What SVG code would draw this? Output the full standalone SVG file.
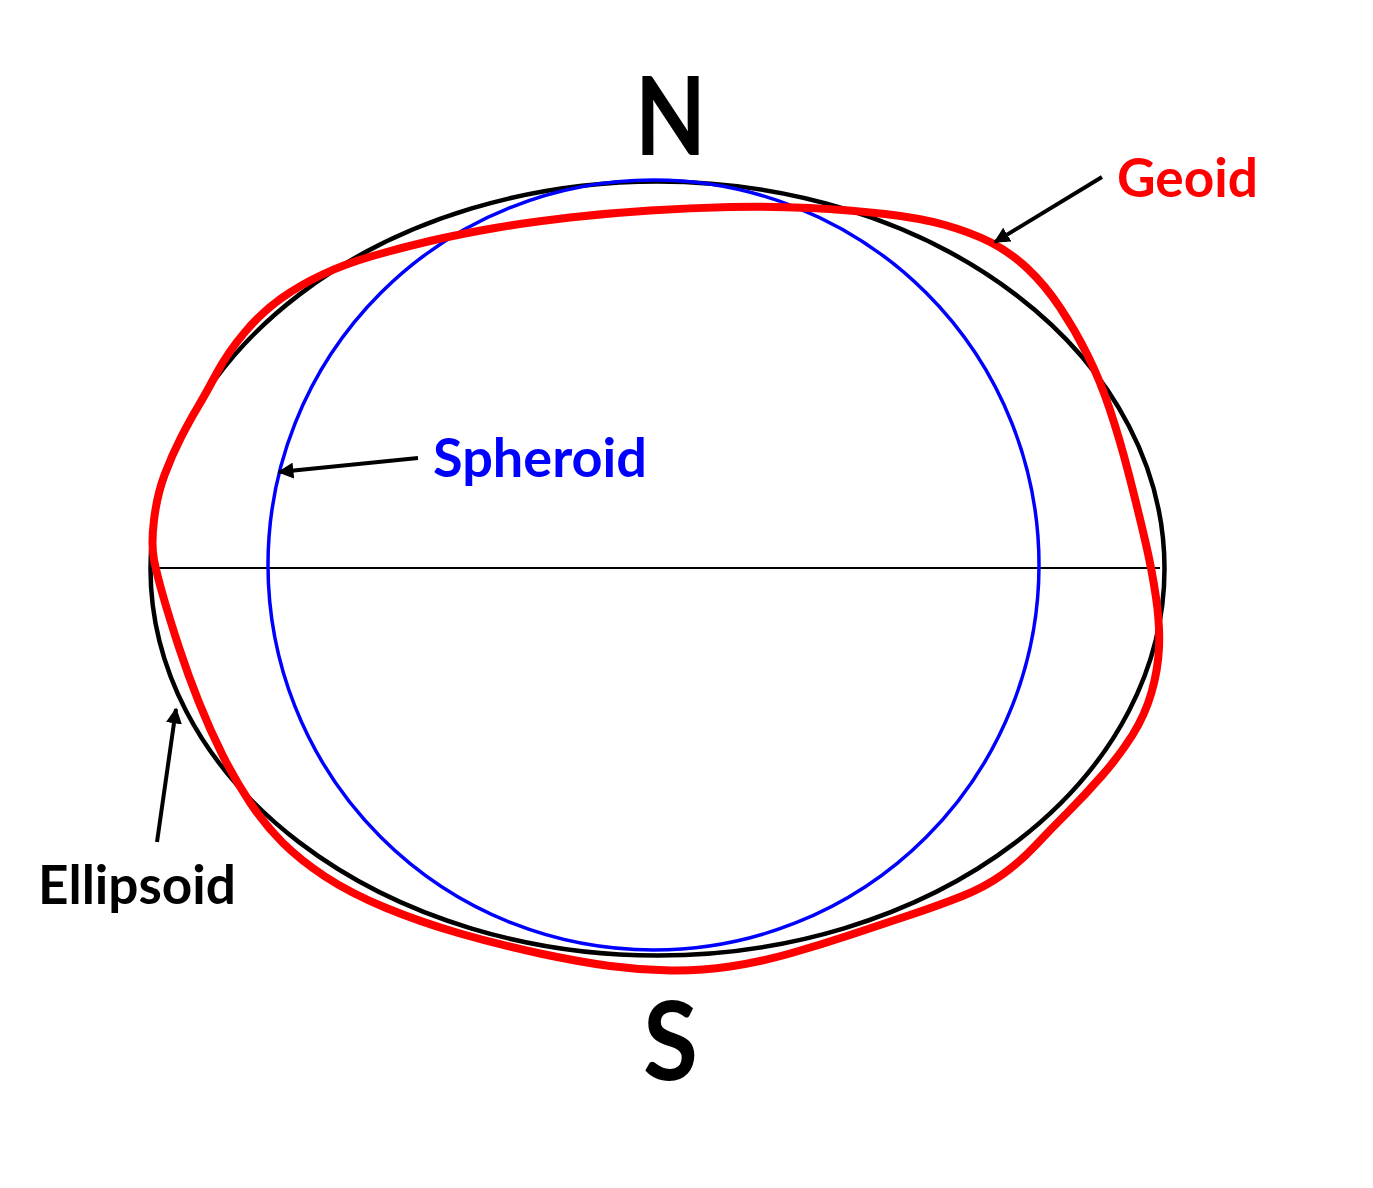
<svg xmlns="http://www.w3.org/2000/svg" width="1373" height="1188" viewBox="0 0 1373 1188">
<style>
.lbl{font-family:Lato,"Open Sans","Liberation Sans",sans-serif;font-weight:bold}
.arrow{stroke:#000;stroke-width:4;fill:none;marker-end:url(#ah)}
</style>
<defs>
<marker id="ah" viewBox="0 0 10 10" refX="9" refY="5" markerWidth="4" markerHeight="4" orient="auto" markerUnits="strokeWidth">
<path d="M0,0 L10,5 L0,10 z" fill="#000"/>
</marker>
</defs>
<rect width="1373" height="1188" fill="#fff"/>
<g id="ellipsoid">
<ellipse cx="657.5" cy="568.5" rx="507" ry="387" fill="none" stroke="#000" stroke-width="4.5"/>
</g>
<g id="equator">
<line x1="152" y1="568" x2="1160" y2="568" stroke="#000" stroke-width="2"/>
</g>
<g id="spheroid">
<ellipse cx="653.5" cy="565" rx="385.5" ry="385" fill="none" stroke="#0000ff" stroke-width="3.5"/>
</g>
<g id="geoid">
<path fill="none" stroke="#ff0000" stroke-width="8" stroke-linejoin="round" d="M154,520 Q157,495 164.5,475 Q172,455 181,437.5 Q190,420 197.5,407.5 Q205,395 216.5,373.5 Q228,352 245,332 Q262,312 281,298.5 Q300,285 322.5,274.5 Q345,264 372.5,256 Q400,248 430,241 Q460,234 495,228 Q530,222 570,217.5 Q610,213 650,210.5 Q690,208 730,207 Q770,206 810,208 Q850,210 885,214 Q920,218 945,225 Q970,232 990,242 Q1010,252 1027.5,268.5 Q1045,285 1060,307.5 Q1075,330 1087.5,355 Q1100,380 1110,410 Q1120,440 1129,475 Q1138,510 1145,540 Q1152,570 1156,597.5 Q1160,625 1159,647.5 Q1158,670 1151.5,692.5 Q1145,715 1132.5,735 Q1120,755 1102.5,775 Q1085,795 1067.5,812.5 Q1050,830 1035,846 Q1020,862 1002.5,874.5 Q985,887 962.5,896 Q940,905 910,915 Q880,925 850,935 Q820,945 790,953.5 Q760,962 730,966.5 Q700,971 670,970.5 Q640,970 610,966 Q580,962 540,953.5 Q500,945 460,933.5 Q420,922 385,907.5 Q350,893 325,876.5 Q300,860 282.5,842.5 Q265,825 250,802.5 Q235,780 222.5,755 Q210,730 199,702.5 Q188,675 179,647.5 Q170,620 163.5,597.5 Q157,575 154,560 Q151,545 154,520 Z"/>
</g>
<g id="connectors">
<line class="arrow" x1="1102" y1="177" x2="995" y2="242"/>
<line class="arrow" x1="418" y1="458" x2="279" y2="472"/>
<line class="arrow" x1="157" y1="842" x2="176" y2="709"/>
</g>
<g id="label-N"><text class="lbl" x="635" y="155" font-size="110" textLength="71" lengthAdjust="spacingAndGlyphs">N</text></g>
<g id="label-S"><text class="lbl" x="643" y="1080" font-size="110" textLength="55" lengthAdjust="spacingAndGlyphs">S</text></g>
<g id="label-geoid"><text class="lbl" x="1117" y="197" font-size="53" fill="#ff0000" textLength="141" lengthAdjust="spacingAndGlyphs">Geoid</text></g>
<g id="label-spheroid"><text class="lbl" x="433" y="477" font-size="53" fill="#0000ff" textLength="214" lengthAdjust="spacingAndGlyphs">Spheroid</text></g>
<g id="label-ellipsoid"><text class="lbl" x="38" y="904" font-size="53" fill="#000" textLength="198" lengthAdjust="spacingAndGlyphs">Ellipsoid</text></g>
</svg>
